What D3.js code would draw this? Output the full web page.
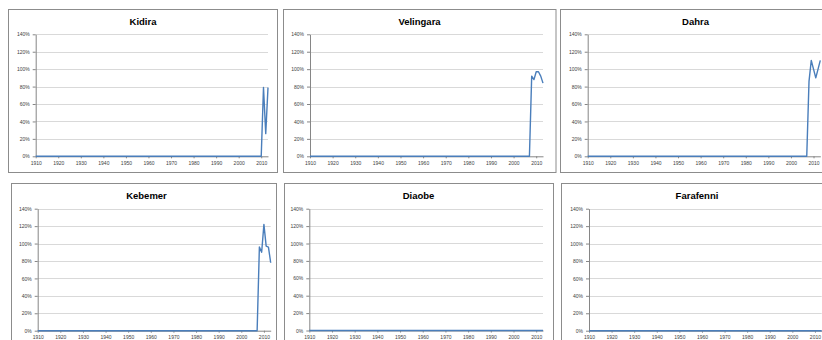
<!DOCTYPE html>
<html>
<head>
<meta charset="utf-8">
<script src="https://cdn.jsdelivr.net/npm/d3@7"></script>
<style>
  html, body { margin: 0; padding: 0; background: #fff; overflow: hidden; }
  svg { display: block; }
</style>
</head>
<body>
<svg id="chart" width="822" height="340"></svg>
<script>
// Yearly categories shown on every panel
const years = [
  1910, 1911, 1912, 1913, 1914, 1915, 1916, 1917, 1918, 1919,
  1920, 1921, 1922, 1923, 1924, 1925, 1926, 1927, 1928, 1929,
  1930, 1931, 1932, 1933, 1934, 1935, 1936, 1937, 1938, 1939,
  1940, 1941, 1942, 1943, 1944, 1945, 1946, 1947, 1948, 1949,
  1950, 1951, 1952, 1953, 1954, 1955, 1956, 1957, 1958, 1959,
  1960, 1961, 1962, 1963, 1964, 1965, 1966, 1967, 1968, 1969,
  1970, 1971, 1972, 1973, 1974, 1975, 1976, 1977, 1978, 1979,
  1980, 1981, 1982, 1983, 1984, 1985, 1986, 1987, 1988, 1989,
  1990, 1991, 1992, 1993, 1994, 1995, 1996, 1997, 1998, 1999,
  2000, 2001, 2002, 2003, 2004, 2005, 2006, 2007, 2008, 2009,
  2010, 2011, 2012, 2013
];

// Axis tick labels
const xTickYears = [1910, 1920, 1930, 1940, 1950, 1960, 1970, 1980, 1990, 2000, 2010];
const yTickValues = [0, 0.2, 0.4, 0.6, 0.8, 1.0, 1.2, 1.4];

// Station names (panel titles)
const stations = ["Kidira", "Velingara", "Dahra", "Kebemer", "Diaobe", "Farafenni"];

// Yearly values per station (share, 1 = 100%)
const kidira = [
  0, 0, 0, 0, 0, 0, 0, 0, 0, 0,
  0, 0, 0, 0, 0, 0, 0, 0, 0, 0,
  0, 0, 0, 0, 0, 0, 0, 0, 0, 0,
  0, 0, 0, 0, 0, 0, 0, 0, 0, 0,
  0, 0, 0, 0, 0, 0, 0, 0, 0, 0,
  0, 0, 0, 0, 0, 0, 0, 0, 0, 0,
  0, 0, 0, 0, 0, 0, 0, 0, 0, 0,
  0, 0, 0, 0, 0, 0, 0, 0, 0, 0,
  0, 0, 0, 0, 0, 0, 0, 0, 0, 0,
  0, 0, 0, 0, 0, 0, 0, 0, 0, 0,
  0, 0.79, 0.26, 0.79
];
const velingara = [
  0, 0, 0, 0, 0, 0, 0, 0, 0, 0,
  0, 0, 0, 0, 0, 0, 0, 0, 0, 0,
  0, 0, 0, 0, 0, 0, 0, 0, 0, 0,
  0, 0, 0, 0, 0, 0, 0, 0, 0, 0,
  0, 0, 0, 0, 0, 0, 0, 0, 0, 0,
  0, 0, 0, 0, 0, 0, 0, 0, 0, 0,
  0, 0, 0, 0, 0, 0, 0, 0, 0, 0,
  0, 0, 0, 0, 0, 0, 0, 0, 0, 0,
  0, 0, 0, 0, 0, 0, 0, 0, 0, 0,
  0, 0, 0, 0, 0, 0, 0, 0, 0.92, 0.88,
  0.97, 0.97, 0.92, 0.84
];
const dahra = [
  0, 0, 0, 0, 0, 0, 0, 0, 0, 0,
  0, 0, 0, 0, 0, 0, 0, 0, 0, 0,
  0, 0, 0, 0, 0, 0, 0, 0, 0, 0,
  0, 0, 0, 0, 0, 0, 0, 0, 0, 0,
  0, 0, 0, 0, 0, 0, 0, 0, 0, 0,
  0, 0, 0, 0, 0, 0, 0, 0, 0, 0,
  0, 0, 0, 0, 0, 0, 0, 0, 0, 0,
  0, 0, 0, 0, 0, 0, 0, 0, 0, 0,
  0, 0, 0, 0, 0, 0, 0, 0, 0, 0,
  0, 0, 0, 0, 0, 0, 0, 0, 0.86, 1.10,
  1.00, 0.90, 1.00, 1.10
];
const kebemer = [
  0, 0, 0, 0, 0, 0, 0, 0, 0, 0,
  0, 0, 0, 0, 0, 0, 0, 0, 0, 0,
  0, 0, 0, 0, 0, 0, 0, 0, 0, 0,
  0, 0, 0, 0, 0, 0, 0, 0, 0, 0,
  0, 0, 0, 0, 0, 0, 0, 0, 0, 0,
  0, 0, 0, 0, 0, 0, 0, 0, 0, 0,
  0, 0, 0, 0, 0, 0, 0, 0, 0, 0,
  0, 0, 0, 0, 0, 0, 0, 0, 0, 0,
  0, 0, 0, 0, 0, 0, 0, 0, 0, 0,
  0, 0, 0, 0, 0, 0, 0, 0, 0.96, 0.90,
  1.22, 0.97, 0.96, 0.78
];
const diaobe = [
  0, 0, 0, 0, 0, 0, 0, 0, 0, 0,
  0, 0, 0, 0, 0, 0, 0, 0, 0, 0,
  0, 0, 0, 0, 0, 0, 0, 0, 0, 0,
  0, 0, 0, 0, 0, 0, 0, 0, 0, 0,
  0, 0, 0, 0, 0, 0, 0, 0, 0, 0,
  0, 0, 0, 0, 0, 0, 0, 0, 0, 0,
  0, 0, 0, 0, 0, 0, 0, 0, 0, 0,
  0, 0, 0, 0, 0, 0, 0, 0, 0, 0,
  0, 0, 0, 0, 0, 0, 0, 0, 0, 0,
  0, 0, 0, 0, 0, 0, 0, 0, 0, 0,
  0, 0, 0, 0
];
const farafenni = [
  0, 0, 0, 0, 0, 0, 0, 0, 0, 0,
  0, 0, 0, 0, 0, 0, 0, 0, 0, 0,
  0, 0, 0, 0, 0, 0, 0, 0, 0, 0,
  0, 0, 0, 0, 0, 0, 0, 0, 0, 0,
  0, 0, 0, 0, 0, 0, 0, 0, 0, 0,
  0, 0, 0, 0, 0, 0, 0, 0, 0, 0,
  0, 0, 0, 0, 0, 0, 0, 0, 0, 0,
  0, 0, 0, 0, 0, 0, 0, 0, 0, 0,
  0, 0, 0, 0, 0, 0, 0, 0, 0, 0,
  0, 0, 0, 0, 0, 0, 0, 0, 0, 0,
  0, 0, 0, 0
];

const seriesByStation = [kidira, velingara, dahra, kebemer, diaobe, farafenni];

// Page layout: outer frame, plot area and title centre of each chart
const panelLayout = [
  { box: [8, 9, 277, 172],     plot: [35.7, 34.3, 268, 156.3],    titleX: 143 },
  { box: [283, 9, 555.5, 172], plot: [310, 34.3, 543, 156.3],     titleX: 419.5 },
  { box: [560, 9, 840, 172],   plot: [587.7, 34.3, 820.3, 156.3], titleX: 695.5 },
  { box: [11, 183, 276, 360],  plot: [37.7, 208.7, 270.7, 330.7], titleX: 146.5 },
  { box: [284, 183, 553, 360], plot: [309.3, 208.7, 543, 330.5],  titleX: 418.5 },
  { box: [561, 183, 840, 360], plot: [589, 208.7, 821.7, 330.7],  titleX: 697 }
];

const lineColor = "#4a7ebb";
const svg = d3.select("#chart");

stations.forEach((name, i) => {
  const lay = panelLayout[i];
  const [bx0, by0, bx1, by1] = lay.box;
  const [px0, py0, px1, py1] = lay.plot;
  const g = svg.append("g").attr("class", "panel");

  // chart frame
  g.append("rect")
    .attr("x", bx0 + 0.5).attr("y", by0 + 0.5)
    .attr("width", bx1 - bx0).attr("height", by1 - by0)
    .attr("fill", "#fff")
    .attr("stroke", "#8c8c8c")
    .attr("stroke-width", 1);

  const x = d3.scaleLinear().domain([years[0], years[years.length - 1]]).range([px0, px1]);
  const y = d3.scaleLinear().domain([0, 1.4]).range([py1, py0]);

  // horizontal gridlines
  g.append("g").selectAll("line")
    .data(yTickValues.filter(v => v > 0))
    .join("line")
    .attr("x1", px0).attr("x2", px1)
    .attr("y1", d => Math.round(y(d)) + 0.5)
    .attr("y2", d => Math.round(y(d)) + 0.5)
    .attr("stroke", "#d9d9d9")
    .attr("stroke-width", 1);

  // x axis
  const xAxis = g.append("g")
    .attr("transform", `translate(0,${py1})`)
    .call(d3.axisBottom(x)
      .tickValues(xTickYears)
      .tickFormat(d3.format("d"))
      .tickSize(2)
      .tickSizeOuter(0)
      .tickPadding(3));
  xAxis.select(".domain").attr("stroke", "#868686");
  xAxis.selectAll(".tick line").attr("stroke", "#868686");
  xAxis.selectAll("text")
    .attr("fill", "#404040")
    .style("font-family", "'Liberation Sans', Arial, sans-serif")
    .style("font-size", "5px");

  // y axis
  const yAxis = g.append("g")
    .attr("transform", `translate(${px0},0)`)
    .call(d3.axisLeft(y)
      .tickValues(yTickValues)
      .tickFormat(d3.format(".0%"))
      .tickSize(3)
      .tickSizeOuter(0)
      .tickPadding(3));
  yAxis.select(".domain").attr("stroke", "#868686");
  yAxis.selectAll(".tick line").attr("stroke", "#868686");
  yAxis.selectAll("text")
    .attr("fill", "#404040")
    .style("font-family", "'Liberation Sans', Arial, sans-serif")
    .style("font-size", "5px");

  // title
  g.append("text")
    .attr("x", lay.titleX)
    .attr("y", by0 + 16)
    .attr("text-anchor", "middle")
    .attr("fill", "#000")
    .style("font-family", "'Liberation Sans', Arial, sans-serif")
    .style("font-weight", "bold")
    .style("font-size", "9.5px")
    .text(name);

  // series line
  const values = seriesByStation[i];
  const line = d3.line()
    .x((d, k) => x(years[k]))
    .y(d => y(d));
  g.append("path")
    .datum(values)
    .attr("d", line)
    .attr("fill", "none")
    .attr("stroke", lineColor)
    .attr("stroke-width", 1.4)
    .attr("stroke-linejoin", "round");
});
</script>
</body>
</html>
